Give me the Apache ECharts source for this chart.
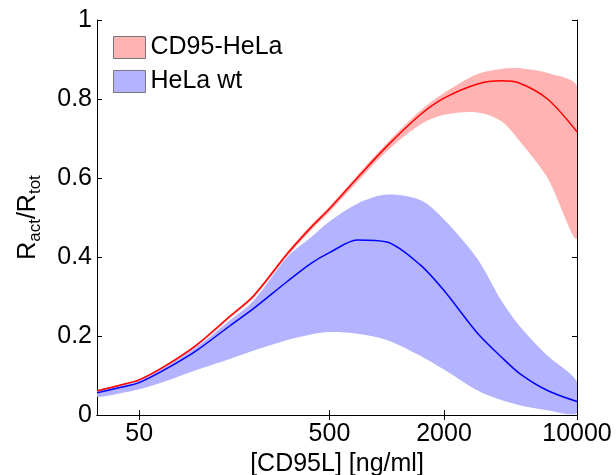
<!DOCTYPE html>
<html><head><meta charset="utf-8">
<script src="https://cdn.jsdelivr.net/npm/echarts@6/dist/echarts.min.js"></script>
<style>html,body{margin:0;padding:0;background:#fff}#c{width:616px;height:475px}</style>
</head><body><div id="c"></div>
<script>
// concentrations [ng/ml]
const conc = [30, 40, 50, 70, 100, 150, 200, 300, 400, 500, 700, 1000, 1500, 2000, 3000, 4000, 5000, 7000, 10000];
// CD95-HeLa
const cd95Mean = [0.061, 0.076, 0.089, 0.127, 0.177, 0.250, 0.302, 0.408, 0.475, 0.522, 0.600, 0.680, 0.760, 0.802, 0.838, 0.846, 0.840, 0.800, 0.717];
const cd95Low  = [0.059, 0.073, 0.086, 0.123, 0.173, 0.245, 0.297, 0.402, 0.468, 0.514, 0.590, 0.668, 0.735, 0.760, 0.766, 0.744, 0.693, 0.600, 0.448];
const cd95High = [0.063, 0.078, 0.091, 0.130, 0.180, 0.254, 0.306, 0.413, 0.481, 0.528, 0.607, 0.688, 0.770, 0.815, 0.863, 0.876, 0.878, 0.866, 0.831];
// HeLa wt
const helaMean = [0.056, 0.070, 0.082, 0.118, 0.163, 0.226, 0.270, 0.338, 0.384, 0.411, 0.443, 0.438, 0.380, 0.315, 0.207, 0.147, 0.105, 0.062, 0.034];
const helaLow  = [0.046, 0.055, 0.065, 0.087, 0.114, 0.142, 0.163, 0.190, 0.204, 0.210, 0.206, 0.190, 0.150, 0.115, 0.062, 0.038, 0.025, 0.012, 0.005];
const helaHigh = [0.062, 0.075, 0.087, 0.124, 0.172, 0.240, 0.290, 0.400, 0.450, 0.490, 0.535, 0.558, 0.544, 0.495, 0.395, 0.290, 0.225, 0.150, 0.084];
// tick labels
const xTicks = [50, 500, 2000, 10000];
const seriesNames = ['CD95-HeLa', 'HeLa wt'];

const FONT = '"Liberation Sans", Arial, Helvetica, sans-serif';
const redFill = '#FFB3B3', blueFill = '#B3B3FF';

function band(name, lo, hi, fill) {
  return {
    type: 'custom', name: name, coordinateSystem: 'cartesian2d',
    xAxisIndex: 0, yAxisIndex: 0, silent: true, clip: true, z: 1,
    itemStyle: { color: fill },
    data: conc.map((c, i) => [c, lo[i], hi[i]]),
    encode: { x: 0, y: [1, 2] },
    renderItem: function (params, api) {
      if (params.dataIndex !== 0) return null;
      const top = conc.map((c, i) => api.coord([c, hi[i]]));
      const bot = conc.map((c, i) => api.coord([c, lo[i]])).reverse();
      return { type: 'polygon', shape: { points: top.concat(bot), smooth: 0.3 },
               style: { fill: fill, stroke: null } };
    }
  };
}
function line(vals, color) {
  return {
    type: 'line', xAxisIndex: 0, yAxisIndex: 0, data: conc.map((c, i) => [c, vals[i]]),
    smooth: 0.3, showSymbol: false, symbol: 'none', silent: true, z: 3,
    lineStyle: { color: color, width: 1.5 }, itemStyle: { color: color }
  };
}
const axLine = { show: true, lineStyle: { color: '#000', width: 1 } };
const tickStyle = { color: '#000', width: 1 };

const chart = echarts.init(document.getElementById('c'));
chart.setOption({
  animation: false,
  backgroundColor: '#fff',
  grid: { left: 97, right: 39, top: 20, bottom: 60, containLabel: false, outerBoundsMode: 'none' },
  legend: {
    left: 108, top: 30, orient: 'vertical', itemWidth: 32, itemHeight: 22, itemGap: 9,
    icon: 'rect', selectedMode: false,
    textStyle: { fontSize: 25, color: '#000', fontFamily: FONT, lineHeight: 22 },
    data: [
      { name: seriesNames[0], itemStyle: { color: redFill, borderColor: '#777', borderWidth: 1 } },
      { name: seriesNames[1], itemStyle: { color: blueFill, borderColor: '#777', borderWidth: 1 } }
    ]
  },
  xAxis: [
    { type: 'log', logBase: 10, min: 30, max: 10000, position: 'bottom',
      axisLine: axLine, splitLine: { show: false },
      axisTick: { show: true, inside: true, length: 5, customValues: xTicks, lineStyle: tickStyle },
      axisLabel: { customValues: xTicks, fontSize: 25, color: '#000', fontFamily: FONT, margin: 7,
                   formatter: function (v) { return String(Math.round(v)); } },
      name: '[CD95L] [ng/ml]', nameLocation: 'middle', nameGap: 34,
      nameTextStyle: { fontSize: 25, color: '#000', fontFamily: FONT } },
    { type: 'log', logBase: 10, min: 30, max: 10000, position: 'top',
      axisLine: axLine, splitLine: { show: false },
      axisTick: { show: true, inside: true, length: 5, customValues: xTicks, lineStyle: tickStyle },
      axisLabel: { show: false } }
  ],
  yAxis: [
    { type: 'value', min: 0, max: 1, interval: 0.2, position: 'left',
      axisLine: axLine, splitLine: { show: false },
      axisTick: { show: true, inside: true, length: 5, lineStyle: tickStyle },
      axisLabel: { fontSize: 25, color: '#000', fontFamily: FONT, margin: 5 },
      name: '{r|R}{s|act}{r|/R}{s|tot}', nameLocation: 'middle', nameRotate: 90, nameGap: 53,
      nameTextStyle: { rich: {
        r: { fontSize: 25, color: '#000', fontFamily: FONT },
        s: { fontSize: 17, color: '#000', fontFamily: FONT, padding: [14, 0, 0, 0] }
      } } },
    { type: 'value', min: 0, max: 1, interval: 0.2, position: 'right',
      axisLine: axLine, splitLine: { show: false },
      axisTick: { show: true, inside: true, length: 5, lineStyle: tickStyle },
      axisLabel: { show: false } }
  ],
  series: [
    band(seriesNames[0], cd95Low, cd95High, redFill),
    band(seriesNames[1], helaLow, helaHigh, blueFill),
    line(cd95Mean, '#FF0000'),
    line(helaMean, '#0000FF')
  ]
});
</script></body></html>
